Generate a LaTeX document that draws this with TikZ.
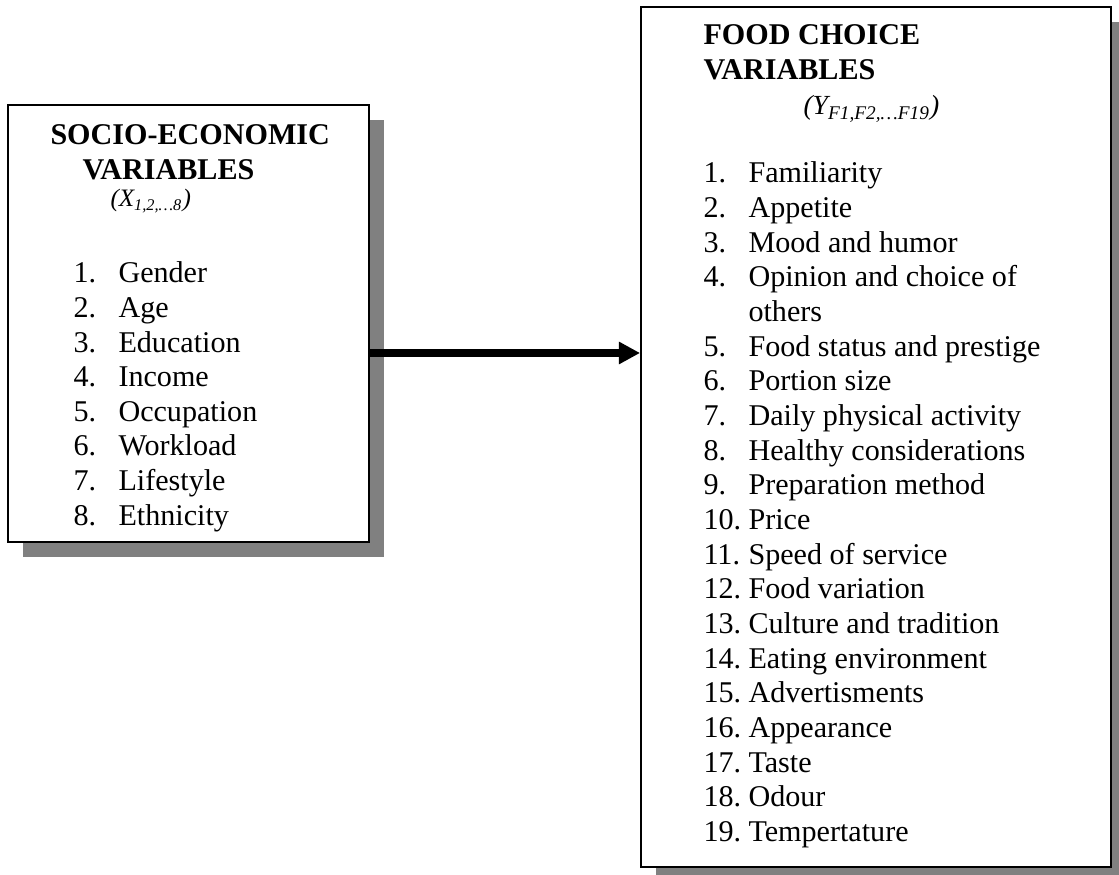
\documentclass[tikz,border=0pt]{standalone}
\usepackage{fontspec}
\setmainfont{Liberation Serif}
\usetikzlibrary{arrows.meta,positioning,shadows}

\begin{document}
\begin{tikzpicture}[
    x=0.3984pt, y=-0.3984pt,
    every node/.style={font=\fontsize{12}{13.8}\selectfont, inner sep=0pt},
    panel/.style={rectangle, draw, line width=0.8pt, fill=white,
        drop shadow={shadow xshift=6pt, shadow yshift=-6pt, fill=black!50, opacity=1}},
    item/.style={anchor=base west},
]
    \useasboundingbox (0,0) rectangle (1119,875);

    % Socio-economic box (left)
    \node[panel, minimum width=143.8pt, minimum height=174.1pt] (socio) at (188.5,323.5) {};
    \node[item] (sociotitle) at (50,145) {\textbf{SOCIO-ECONOMIC}};
    \node[item] (sociovar) at (82,180) {\textbf{VARIABLES}};
    \node[item, font=\fontsize{10}{12}\selectfont] (sociosym) at (110,207)
        {\textit{(X\textsubscript{\fontsize{6.5}{7}\selectfont 1,2,\ldots8})}};
    \foreach \n/\txt [evaluate=\n as \y using {283+(\n-1)*34.6}] in
        {1/Gender, 2/Age, 3/Education, 4/Income, 5/Occupation, 6/Workload, 7/Lifestyle, 8/Ethnicity}
        \node[item] (sn\n) at (73,\y) {\n.} node[item] (st\n) at (118,\y) {\txt};

    % Food choice box (right)
    \node[panel, minimum width=187.2pt, minimum height=342.6pt] (food) at (876,437) {};
    \node[item] (foodtitle) at (703,45) {\textbf{FOOD CHOICE}};
    \node[item] (foodvar) at (703,80) {\textbf{VARIABLES}};
    \node[item, font=\fontsize{11}{13}\selectfont] (foodsym) at (803,115)
        {\textit{(Y\textsubscript{F1,F2,\ldots F19})}};
    \foreach \n/\txt [evaluate=\n as \y using {183+(\n-1+(\n>4))*34.65}] in
        {1/Familiarity, 2/Appetite, 3/Mood and humor, 4/Opinion and choice of,
         5/Food status and prestige, 6/Portion size, 7/Daily physical activity,
         8/Healthy considerations, 9/Preparation method, 10/Price, 11/Speed of service,
         12/Food variation, 13/Culture and tradition, 14/Eating environment,
         15/Advertisments, 16/Appearance, 17/Taste, 18/Odour, 19/Tempertature}
        \node[item] (fn\n) at (703,\y) {\n.} node[item] (ft\n) at (748,\y) {\txt};
    \node[item] (ft4b) at (748,321.6) {others};

    % Link
    \draw[line width=2.8pt, -{Triangle[length=8.4pt, width=8.4pt]}]
        ([yshift=-11.75pt]socio.east) -- ([yshift=-11.75pt]socio.east -| food.west);
\end{tikzpicture}
\end{document}
